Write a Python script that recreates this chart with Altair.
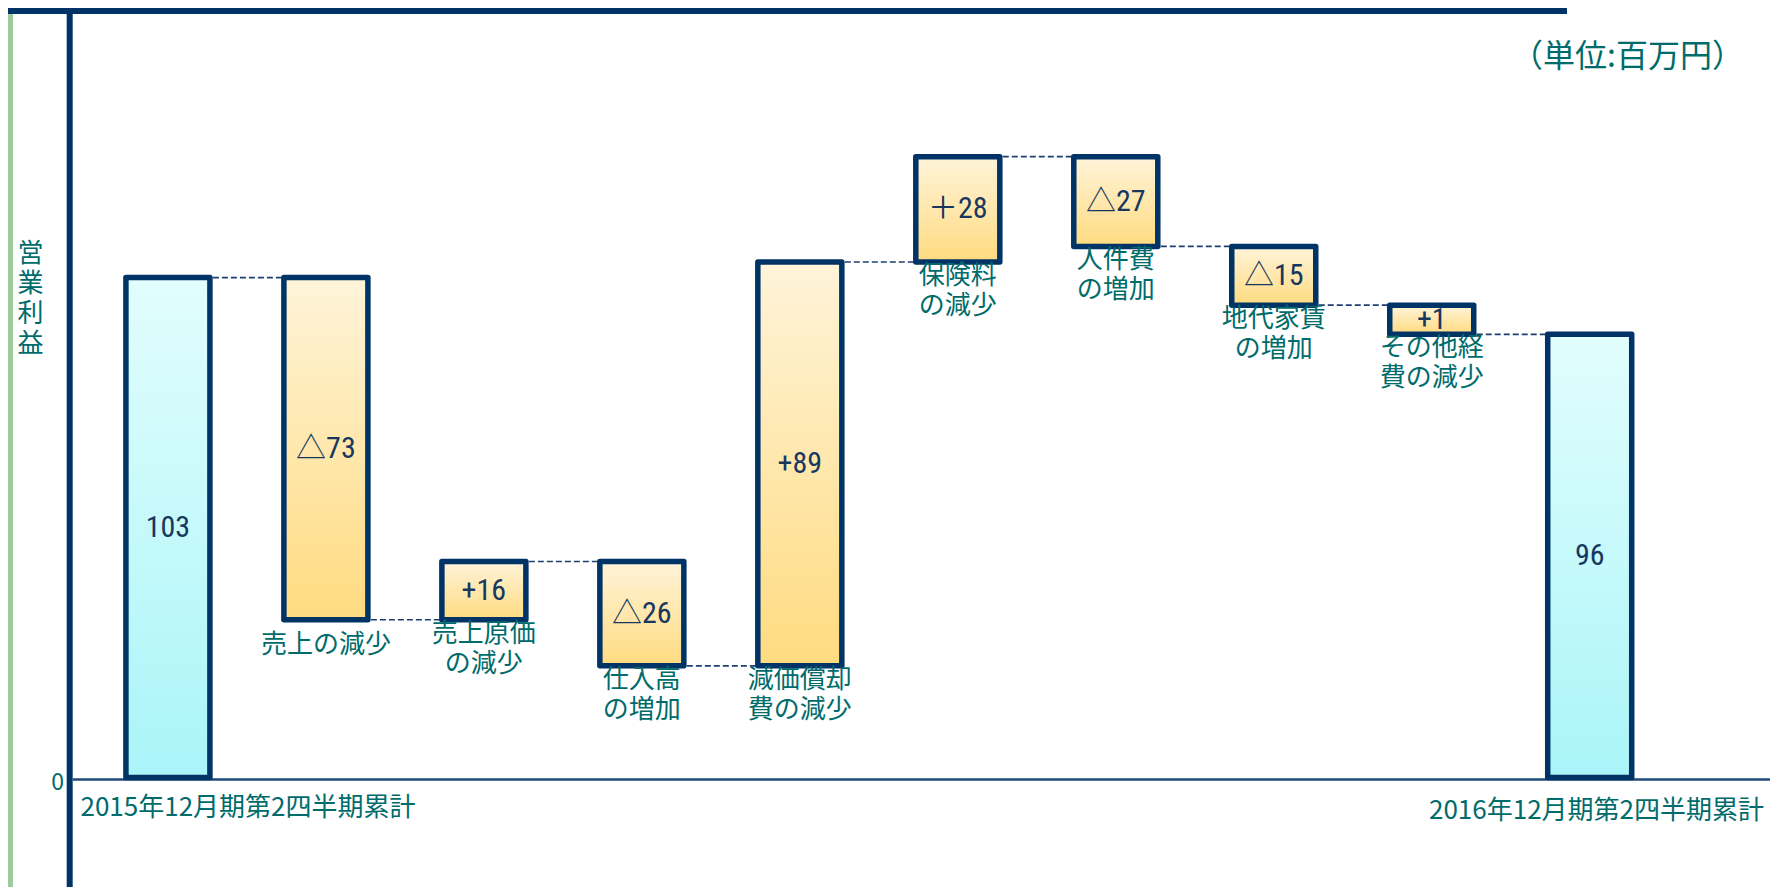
import altair as alt
import pandas as pd

# ---- data ----
categories = ["2015年12月期第2四半期累計", "売上の減少", "売上原価\nの減少", "仕入高\nの増加",
              "減価償却\n費の減少", "保険料\nの減少", "人件費\nの増加", "地代家賃\nの増加",
              "その他経\n費の減少", "2016年12月期第2四半期累計"]
value_labels = ["103", "△73", "+16", "△26", "+89", "＋28", "△27", "△15", "+1", "96"]
# running level after each step, as drawn in the picture (百万円)
drawn_levels = [103, 32.5, 44.5, 23.0, 106.2, 127.9, 109.4, 97.3, 91.3]
unit_text = "（単位:百万円）"
y_title = "営\n業\n利\n益"
zero_label = "0"

# ---- tables built from the arrays ----
n = len(categories)
bars = []
for i in range(n):
    if i == 0:
        s, e, kind = 0, drawn_levels[0], "total"
    elif i == n - 1:
        s, e, kind = 0, drawn_levels[-1], "total"
    else:
        s, e, kind = drawn_levels[i - 1], drawn_levels[i], "step"
    bars.append({"i": i, "start": s, "end": e, "low": min(s, e),
                 "mid": (s + e) / 2, "kind": kind, "cat": categories[i],
                 "val": value_labels[i]})
bars = pd.DataFrame(bars)
conn = pd.DataFrame({"i": list(range(n - 1)), "j": list(range(1, n)),
                     "lvl": drawn_levels})

NAVY = "#003366"
TEAL = "#006B6B"
VAL = "#17375E"
CJK = "Noto Sans CJK JP"
NARROW = "'Roboto Condensed', 'Noto Sans CJK JP', sans-serif"

W, H = 1762, 879
xs = alt.Scale(domain=[-0.9806, 10.1095], nice=False, zero=False)
ys = alt.Scale(domain=[-22.559, 158.529], nice=False, zero=False)

one = pd.DataFrame({"k": [0]})

grad_orange = alt.Gradient(gradient="linear",
                           stops=[alt.GradientStop(color="#FFF4DA", offset=0),
                                  alt.GradientStop(color="#FFDB80", offset=1)],
                           x1=0, x2=0, y1=0, y2=1)
grad_blue = alt.Gradient(gradient="linear",
                         stops=[alt.GradientStop(color="#E2FDFD", offset=0),
                                alt.GradientStop(color="#AAF5F8", offset=1)],
                         x1=0, x2=0, y1=0, y2=1)

# decorations
top_bar = alt.Chart(one).mark_rect(color=NAVY).encode(
    x=alt.value(0), x2=alt.value(1559), y=alt.value(0), y2=alt.value(6))
green = alt.Chart(one).mark_rect(color="#9CCC9C").encode(
    x=alt.value(0), x2=alt.value(5), y=alt.value(0), y2=alt.value(H))
vline = alt.Chart(one).mark_rule(color=NAVY, strokeWidth=6).encode(
    x=alt.value(61.7), y=alt.value(0), y2=alt.value(H))
baseline = alt.Chart(one).mark_rule(color="#1F4A7A", strokeWidth=2.5, yOffset=2).encode(
    x=alt.value(64.7), x2=alt.value(W),
    y=alt.YDatum(0, type="quantitative", scale=ys, axis=None))
zero_txt = alt.Chart(pd.DataFrame({"t": [zero_label]})).mark_text(
    font=CJK, fontSize=23, color=TEAL, align="right", baseline="middle", dy=5.5).encode(
    x=alt.value(56), y=alt.YDatum(0, type="quantitative", scale=ys, axis=None), text="t:N")
ytitle = alt.Chart(pd.DataFrame({"t": [y_title]})).mark_text(
    font=CJK, fontSize=26, color=TEAL, align="center", baseline="top",
    lineBreak="\n", lineHeight=30).encode(
    x=alt.value(22.4), y=alt.value(233), text="t:N")
unit = alt.Chart(pd.DataFrame({"t": [unit_text]})).mark_text(
    font=CJK, fontSize=32, color=TEAL, align="center", baseline="top").encode(
    x=alt.value(1619.5), y=alt.value(34), text="t:N")

# connectors
connectors = alt.Chart(conn).mark_rule(color="#1F3F70", strokeWidth=1.7,
                                       strokeDash=[6, 3]).encode(
    x=alt.X("i:Q", scale=xs, axis=None), x2="j:Q",
    y=alt.Y("lvl:Q", scale=ys, axis=None))

bar_enc = dict(x=alt.X("i:Q", scale=xs, axis=None),
               y=alt.Y("start:Q", scale=ys, axis=None), y2="end:Q")
totals = alt.Chart(bars).transform_filter(alt.datum.kind == "total").mark_bar(
    size=84, orient="vertical", fill=grad_blue, stroke=NAVY, strokeWidth=5.5,
    strokeJoin="round").encode(**bar_enc)
steps = alt.Chart(bars).transform_filter(alt.datum.kind == "step").mark_bar(
    size=84, orient="vertical", fill=grad_orange, stroke=NAVY, strokeWidth=5.5,
    strokeJoin="round").encode(**bar_enc)

values = alt.Chart(bars).mark_text(font=NARROW, fontSize=30, color=VAL,
                                   align="center", baseline="middle").encode(
    x=alt.X("i:Q", scale=xs, axis=None), y=alt.Y("mid:Q", scale=ys, axis=None),
    text="val:N")

cat_two = alt.Chart(bars).transform_filter(
    (alt.datum.kind == "step") & (alt.datum.i > 1)).mark_text(
    font=CJK, fontSize=26, color=TEAL, align="center", baseline="top",
    lineBreak="\n", lineHeight=30, dy=1).encode(
    x=alt.X("i:Q", scale=xs, axis=None), y=alt.Y("low:Q", scale=ys, axis=None),
    text="cat:N")
cat_one = alt.Chart(bars).transform_filter(alt.datum.i == 1).mark_text(
    font=CJK, fontSize=26, color=TEAL, align="center", baseline="top", dy=12.5).encode(
    x=alt.X("i:Q", scale=xs, axis=None), y=alt.Y("low:Q", scale=ys, axis=None),
    text="cat:N")
first_lbl = alt.Chart(bars).transform_filter(alt.datum.i == 0).mark_text(
    font=CJK, fontSize=26, color=TEAL, align="left", baseline="top", dy=18).encode(
    x=alt.value(72.5), y=alt.Y("start:Q", scale=ys, axis=None), text="cat:N")
last_lbl = alt.Chart(bars).transform_filter(alt.datum.i == n - 1).mark_text(
    font=CJK, fontSize=26, color=TEAL, align="right", baseline="top", dy=21).encode(
    x=alt.value(1756), y=alt.Y("start:Q", scale=ys, axis=None), text="cat:N")

chart = alt.layer(
    green, top_bar, vline, connectors, baseline, totals, steps, values,
    cat_two, cat_one, first_lbl, last_lbl, zero_txt, ytitle, unit
).properties(
    width=W, height=H, autosize=alt.AutoSizeParams(type="none"), padding=0,
    background="white"
).configure_view(stroke=None)

chart.save("out.html", embed_options={"renderer": "svg", "actions": False})
